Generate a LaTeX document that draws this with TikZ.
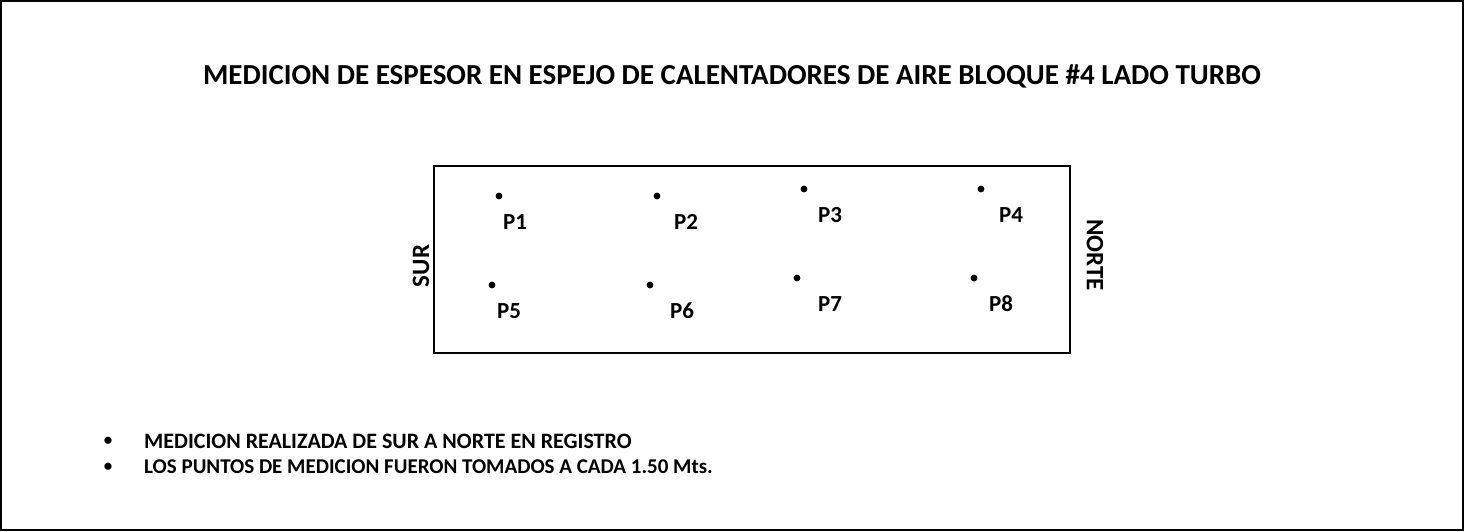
\documentclass[tikz,border=0pt]{standalone}
\usepackage{fontspec}
\setmainfont{Carlito}
\begin{document}
\begin{tikzpicture}[x=1pt, y=-1pt,
    lbl/.style={font=\fontsize{23}{26}\selectfont\bfseries, inner sep=0pt},
    side/.style={font=\fontsize{25}{28}\selectfont\bfseries, inner sep=0pt},
    note/.style={font=\fontsize{22}{26}\selectfont\bfseries, inner sep=0pt, anchor=west},
    dotmark/.style={font=\fontsize{17}{20}\selectfont\bfseries, inner sep=0pt},
    pt/.style={fill=black, draw=none}]

    \useasboundingbox (0, 0) rectangle (1464, 531);
    \draw[line width=2pt] (1, 1) rectangle (1463, 530);

    \node[font=\fontsize{29}{34}\selectfont\bfseries, inner sep=0pt] (TIT) at (732, 76)
    {MEDICION DE ESPESOR EN ESPEJO DE CALENTADORES DE AIRE BLOQUE \#4 LADO TURBO};

    \coordinate (BU) at (434, 166);
    \coordinate (BD) at (1070, 353);
    \draw[line width=2.5pt] (BU) rectangle (BD);

    \coordinate (D1) at (499, 196);
    \coordinate (D2) at (657, 196);
    \coordinate (D3) at (804, 189);
    \coordinate (D4) at (981, 189);
    \coordinate (D5) at (492, 285);
    \coordinate (D6) at (650, 285);
    \coordinate (D7) at (797, 278);
    \coordinate (D8) at (974, 278);

    \foreach \d in {D1, D2, D3, D4, D5, D6, D7, D8}
    \fill[pt] (\d) circle (3.4);

    \node[lbl] (P1) at (515, 222) {P1};
    \node[lbl] (P2) at (686, 222) {P2};
    \node[lbl] (P3) at (830, 215) {P3};
    \node[lbl] (P4) at (1011, 215) {P4};
    \node[lbl] (P5) at (509, 311) {P5};
    \node[lbl] (P6) at (682, 311) {P6};
    \node[lbl] (P7) at (830, 304) {P7};
    \node[lbl] (P8) at (1001, 304) {P8};

    \node[side, rotate=90] (SUR) at (421, 266) {SUR};
    \node[side, rotate=-90] (NOR) at (1095, 255) {NORTE};

    \node[dotmark] (M1) at (108, 441) {\textbullet};
    \node[dotmark] (M2) at (108, 467) {\textbullet};
    \node[note] (B1) at (144, 441) {MEDICION REALIZADA DE SUR A NORTE EN REGISTRO};
    \node[note, font=\fontsize{21}{25}\selectfont\bfseries] (B2) at (144, 467)
    {LOS PUNTOS DE MEDICION FUERON TOMADOS A CADA 1.50 Mts.};

  \end{tikzpicture}
\end{document}
